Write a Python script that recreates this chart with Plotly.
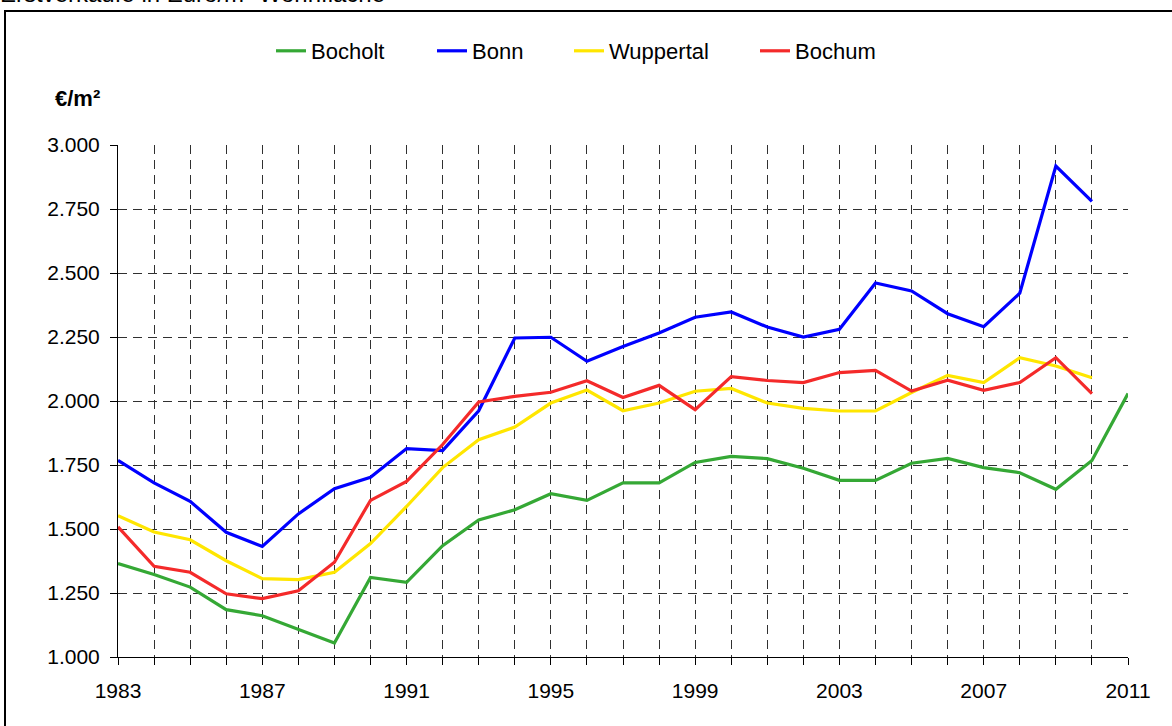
import plotly.graph_objects as go

years = list(range(1983, 2012))
bocholt = [1365, 1322, 1273, 1185, 1161, 1107, 1055, 1311, 1292, 1435, 1535, 1575, 1638, 1612,
           1680, 1680, 1760, 1784, 1775, 1737, 1690, 1690, 1757, 1776, 1740, 1720, 1655, 1768, 2029]
bonn = [1768, 1680, 1608, 1487, 1432, 1559, 1657, 1702, 1814, 1806, 1962, 2246, 2249, 2155,
        2213, 2266, 2327, 2348, 2289, 2250, 2280, 2461, 2430, 2341, 2290, 2421, 2918, 2780]
wuppertal = [1552, 1488, 1458, 1376, 1306, 1302, 1331, 1443, 1588, 1740, 1849, 1898, 1992, 2043,
             1962, 1992, 2038, 2049, 1992, 1971, 1961, 1961, 2033, 2100, 2072, 2169, 2137, 2091]
bochum = [1508, 1354, 1331, 1247, 1228, 1259, 1370, 1612, 1686, 1830, 1996, 2018, 2034, 2079,
          2014, 2061, 1966, 2095, 2080, 2072, 2111, 2120, 2039, 2081, 2042, 2072, 2169, 2029]

series = [
    ("Bocholt", bocholt, "#35A835", 116),
    ("Bonn", bonn, "#0000FF", 92),
    ("Wuppertal", wuppertal, "#FFE600", 141),
    ("Bochum", bochum, "#F42A2A", 90),
]

W, H = 1172, 726
L, R, T, B = 118, 1128, 145, 657


def px(x):
    return (x - L) / (R - L)


def py(y):
    return (B - y) / (B - T)


FONT = "Liberation Sans, Arial, sans-serif"
GRID = "#303030"
DASH = "9px,6px"

fig = go.Figure()
for name, vals, color, lw in series:
    fig.add_trace(go.Scatter(
        x=years[:len(vals)], y=vals, name=name, mode="lines",
        line=dict(color=color, width=3.2), legendwidth=lw,
    ))

fig.update_layout(
    width=W, height=H,
    margin=dict(l=L, r=W - R, t=T, b=H - B, pad=0),
    paper_bgcolor="white", plot_bgcolor="white",
    separators=",.",
    font=dict(family=FONT, size=21, color="black"),
    showlegend=True,
    legend=dict(orientation="h", x=px(271), xanchor="left", y=py(51), yanchor="middle",
                font=dict(size=22), bgcolor="rgba(0,0,0,0)", borderwidth=0),
    xaxis=dict(
        range=[1983, 2011], tick0=1983, dtick=4, tickmode="linear",
        showgrid=True, gridcolor=GRID, griddash=DASH, gridwidth=1,
        minor=dict(dtick=1, tick0=1983, showgrid=True, gridcolor=GRID, griddash=DASH,
                   gridwidth=1, ticks="outside", ticklen=7, tickcolor="black"),
        ticks="outside", ticklen=7, tickcolor="black",
        showline=True, linecolor="black", linewidth=1, zeroline=False,
        tickfont=dict(size=21), ticklabelstandoff=8,
    ),
    yaxis=dict(
        range=[1000, 3000], tick0=1000, dtick=250, tickmode="linear",
        tickformat=",.0f",
        showgrid=True, gridcolor=GRID, griddash=DASH, gridwidth=1,
        ticks="outside", ticklen=7, tickcolor="black",
        showline=True, linecolor="black", linewidth=1, zeroline=False,
        tickfont=dict(size=21), ticklabelstandoff=6,
    ),
    shapes=[dict(type="rect", xref="paper", yref="paper",
                 x0=px(5), x1=px(1300), y0=py(900), y1=py(11),
                 line=dict(color="black", width=2), fillcolor="rgba(0,0,0,0)", layer="above")],
    annotations=[
        dict(text="Erstverkäufe in Euro/m² Wohnfläche", xref="paper", yref="paper",
             x=px(-2), xanchor="left", y=py(9), yanchor="bottom", showarrow=False,
             font=dict(size=24)),
        dict(text="<b>€/m²</b>", xref="paper", yref="paper",
             x=px(53), xanchor="left", y=py(98), yanchor="middle", showarrow=False,
             font=dict(size=22)),
    ],
)

fig.write_html(
    "out.html",
    config={"displayModeBar": False},
    post_script="document.body.style.margin='0';document.body.style.overflow='hidden';",
)
